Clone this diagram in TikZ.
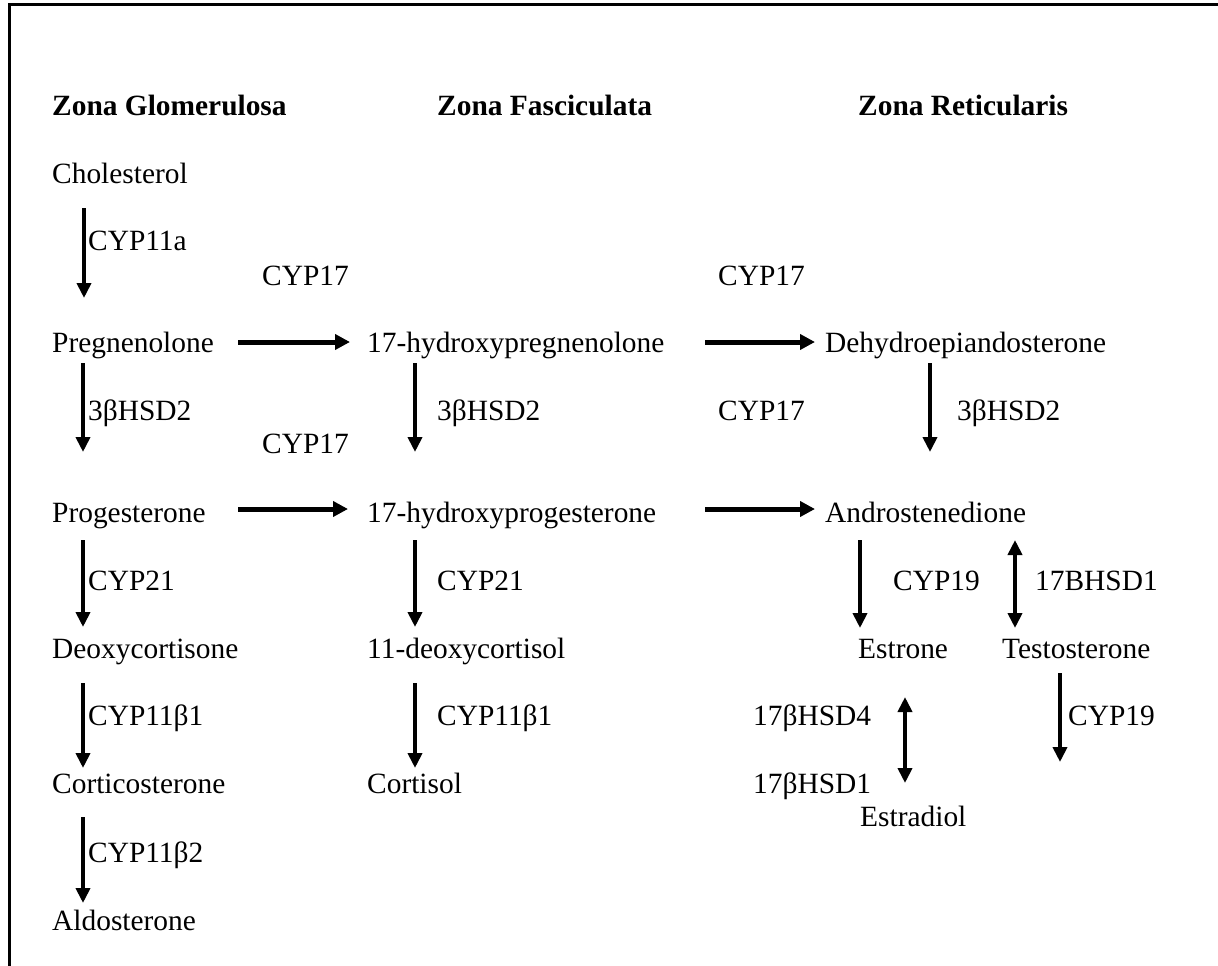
\documentclass[tikz,border=0pt]{standalone}
\usepackage{fontspec}
\setmainfont{Liberation Serif}
\usetikzlibrary{arrows.meta}

\begin{document}
\begin{tikzpicture}[x=1pt,y=-1pt,
	every node/.style={anchor=base west,inner sep=0pt,font=\fontsize{29.4}{34}\selectfont},
	zone/.style={font=\fontsize{29.4}{34}\selectfont\bfseries},
	arr/.style={-{Triangle[length=15pt,width=14pt]},line width=4pt},
	harr/.style={-{Triangle[length=15pt,width=15pt]},line width=5pt},
	darr/.style={{Triangle[length=15pt,width=14pt]}-{Triangle[length=15pt,width=14pt]},line width=4pt}]
			\useasboundingbox (0,0) rectangle (1218,966);
			\draw[line width=3pt] (9,966) -- (9,5) -- (1218,5);
			% zones
			\node[zone] (zg) at (52,115){Zona Glomerulosa};
			\node[zone] (zf) at (437,115){Zona Fasciculata};
			\node[zone] (zr) at (858,115){Zona Reticularis};
			% steroids
			\node (chol) at (52,183){Cholesterol};
			\node (preg) at (52,352){Pregnenolone};
			\node (hpreg) at (367,352){17-hydroxypregnenolone};
			\node (dhea) at (825,352){Dehydroepiandosterone};
			\node (prog) at (52,522){Progesterone};
			\node (hprog) at (367,522){17-hydroxyprogesterone};
			\node (andro) at (825,522){Androstenedione};
			\node (doc) at (52,658){Deoxycortisone};
			\node (dcl) at (367,658){11-deoxycortisol};
			\node (estrone) at (858,658){Estrone};
			\node (testo) at (1002,658){Testosterone};
			\node (cort) at (52,793){Corticosterone};
			\node (cortisol) at (367,793){Cortisol};
			\node (estradiol) at (860,826){Estradiol};
			\node (aldo) at (52,930){Aldosterone};
			% enzymes
			\node (e11a) at (88,250){CYP11a};
			\node (e17a) at (262,285){CYP17};
			\node (e17b) at (718,285){CYP17};
			\node (e17c) at (262,453){CYP17};
			\node (e17d) at (718,420){CYP17};
			\node (ehsda) at (88,420){3βHSD2};
			\node (ehsdb) at (437,420){3βHSD2};
			\node (ehsdc) at (957,420){3βHSD2};
			\node (e21a) at (88,590){CYP21};
			\node (e21b) at (437,590){CYP21};
			\node (e19a) at (893,590){CYP19};
			\node (ebhsd) at (1035,590){17BHSD1};
			\node (e11b1a) at (88,725){CYP11β1};
			\node (e11b1b) at (437,725){CYP11β1};
			\node (e19b) at (1068,725){CYP19};
			\node (ehsd4) at (753,725){17βHSD4};
			\node (ehsd1) at (753,793){17βHSD1};
			\node (e11b2) at (88,862){CYP11β2};
			\coordinate (testoend) at (1060,762);
			% reactions
			\draw[arr] ([shift={(32,25)}]chol.base west) -- ([shift={(32,-54)}]preg.base west);
			\draw[arr] ([shift={(31,11)}]preg.base west) -- ([shift={(31,-70)}]prog.base west);
			\draw[arr] ([shift={(48,11)}]hpreg.base west) -- ([shift={(48,-70)}]hprog.base west);
			\draw[arr] ([shift={(105,11)}]dhea.base west) -- ([shift={(105,-70)}]andro.base west);
			\draw[harr] ([shift={(186,-10)}]preg.base west) -- ([shift={(-17,-10)}]hpreg.base west);
			\draw[harr] ([shift={(338,-10)}]hpreg.base west) -- ([shift={(-10,-10)}]dhea.base west);
			\draw[harr] ([shift={(186,-13)}]prog.base west) -- ([shift={(-19,-13)}]hprog.base west);
			\draw[harr] ([shift={(338,-13)}]hprog.base west) -- ([shift={(-10,-13)}]andro.base west);
			\draw[arr] ([shift={(31,18)}]prog.base west) -- ([shift={(31,-31)}]doc.base west);
			\draw[arr] ([shift={(48,18)}]hprog.base west) -- ([shift={(48,-31)}]dcl.base west);
			\draw[arr] ([shift={(35,18)}]andro.base west) -- ([shift={(2,-30)}]estrone.base west);
			\draw[darr] ([shift={(190,18)}]andro.base west) -- ([shift={(13,-30)}]testo.base west);
			\draw[arr] ([shift={(31,25)}]doc.base west) -- ([shift={(31,-25)}]cort.base west);
			\draw[arr] ([shift={(48,25)}]dcl.base west) -- ([shift={(48,-25)}]cortisol.base west);
			\draw[arr] ([shift={(58,15)}]testo.base west) -- (testoend);
			\draw[darr] ([shift={(47,39)}]estrone.base west) -- ([shift={(45,-43)}]estradiol.base west);
			\draw[arr] ([shift={(31,24)}]cort.base west) -- ([shift={(31,-27)}]aldo.base west);
		\end{tikzpicture}
\end{document}
